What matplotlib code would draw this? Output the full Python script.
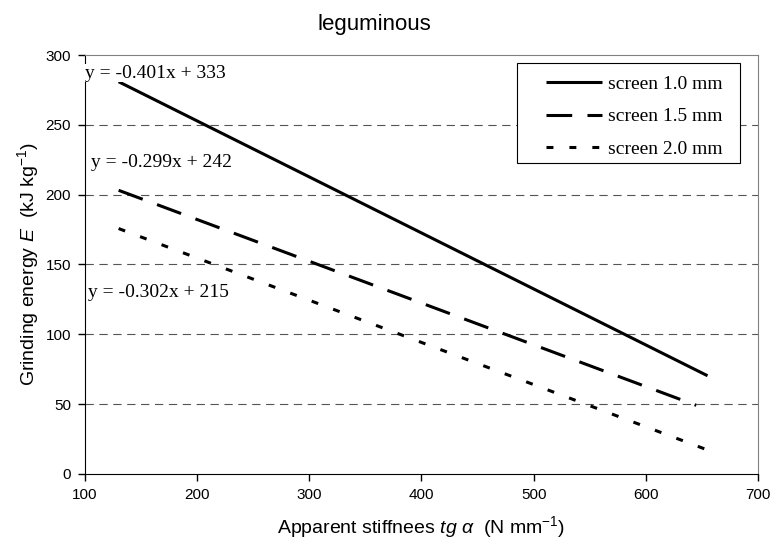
import matplotlib
matplotlib.use("Agg")
import matplotlib.pyplot as plt
from matplotlib.patches import Rectangle

# trend lines for each screen size: slope, intercept and x span
screens = ["screen 1.0 mm", "screen 1.5 mm", "screen 2.0 mm"]
slopes = [-0.401, -0.299, -0.302]
intercepts = [333, 242, 215]
x_start = [130, 130, 130]
x_end = [655, 645, 655]

x_ticks = [100, 200, 300, 400, 500, 600, 700]
y_ticks = [0, 50, 100, 150, 200, 250, 300]

plt.rcParams["font.family"] = "Liberation Sans"
plt.rcParams["mathtext.fontset"] = "custom"
plt.rcParams["mathtext.rm"] = "Liberation Sans"
plt.rcParams["mathtext.it"] = "Liberation Sans:italic"
plt.rcParams["lines.scale_dashes"] = False

fig = plt.figure(figsize=(7.76, 5.43), dpi=100)
ax = fig.add_axes([0.1095, 0.1271, 0.8673, 0.7716])

styles = [
    dict(linestyle="-"),
    dict(dashes=(18.5, 11)),
    dict(dashes=(5, 11.5)),
]

for name, k, b, x0, x1, st in zip(screens, slopes, intercepts, x_start, x_end, styles):
    xs = [x0, x1]
    ys = [k * x + b for x in xs]
    ax.plot(xs, ys, color="black", linewidth=2.2, label=name,
            solid_capstyle="butt", dash_capstyle="butt", zorder=3, **st)

# equation labels next to the line starts
eq_pos = [(100, 287), (105.4, 223), (102.7, 130)]
for (tx, ty), k, b in zip(eq_pos, slopes, intercepts):
    ax.text(tx, ty, f"y = {k:.3f}x + {b}", family="Liberation Serif",
            fontsize=14, va="center", ha="left", zorder=4,
            bbox=dict(facecolor="white", edgecolor="none", pad=0.5))

ax.set_xlim(100, 700)
ax.set_ylim(0, 300)
ax.set_xticks(x_ticks)
ax.set_yticks(y_ticks)
ax.tick_params(direction="out", length=5, width=1, labelsize=11,
               colors="black", pad=5)

for y in y_ticks[1:-1]:
    ax.axhline(y, color="#555555", linewidth=0.8, dashes=(6, 4), zorder=1)

for side in ["top", "right"]:
    ax.spines[side].set_color("#808080")
for side in ["left", "bottom"]:
    ax.spines[side].set_color("black")

fig.text(0.482, 0.955, "leguminous", fontsize=16, ha="center", va="center")
ax.set_xlabel(r"Apparent stiffnees $tg\ \alpha$  (N mm$^{-1}$)", fontsize=14, labelpad=9)
ax.set_ylabel(r"Grinding energy $E$  (kJ kg$^{-1}$)", fontsize=14, labelpad=3)

# legend box drawn by hand so the padding around the entries can be wide
ax.add_patch(Rectangle((0.642, 0.742), 0.331, 0.239, transform=ax.transAxes,
                       facecolor="white", edgecolor="black", linewidth=0.8,
                       zorder=5))
leg = ax.legend(loc="upper left", bbox_to_anchor=(0.670, 0.974), frameon=False,
                handlelength=2.9, handletextpad=0.3, borderpad=0,
                labelspacing=0.75,
                prop={"family": "Liberation Serif", "size": 14})
leg.set_zorder(6)

fig.savefig("out.png", dpi=100)
